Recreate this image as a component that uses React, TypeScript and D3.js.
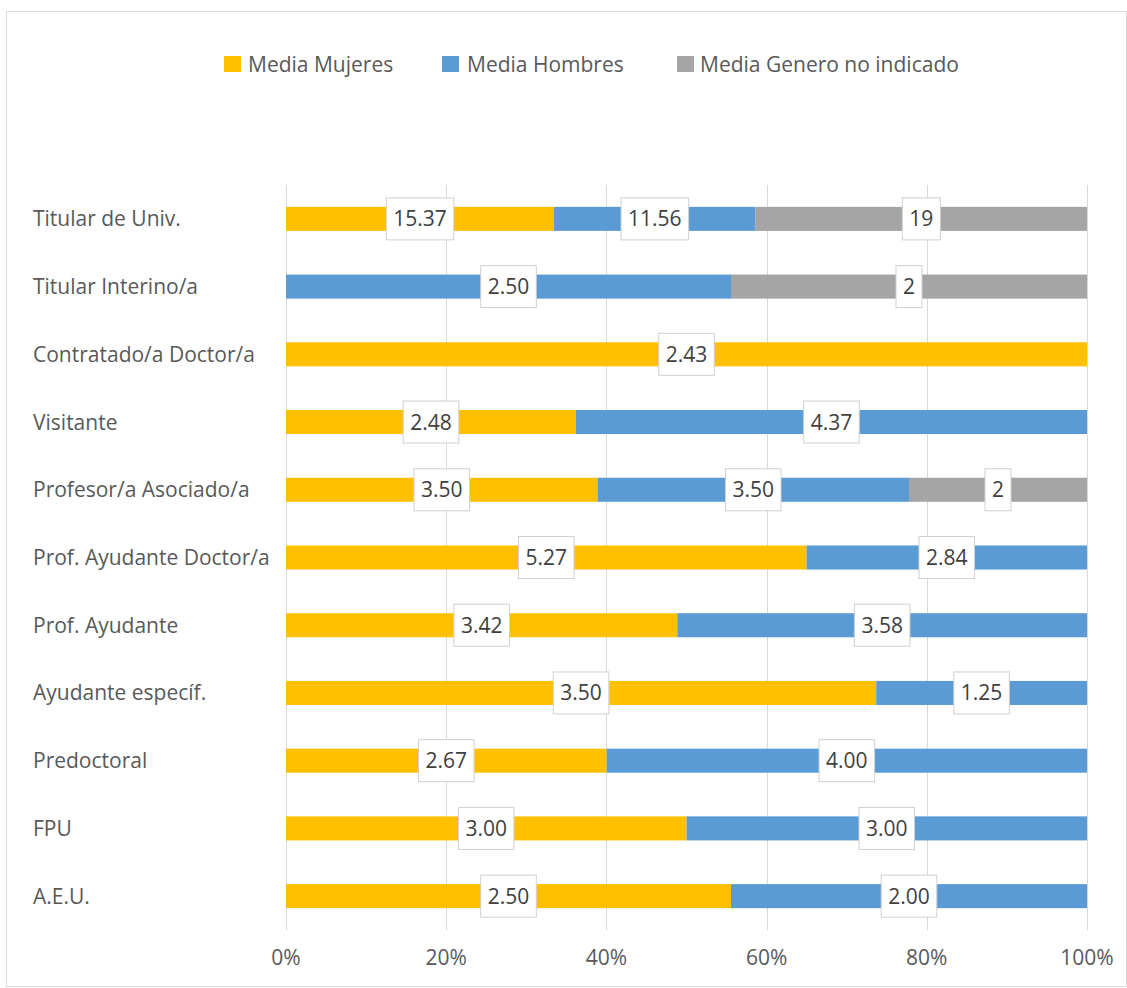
import React, { useEffect, useRef } from "react";
import * as d3 from "d3";

const categories = [
  "Titular de Univ.",
  "Titular Interino/a",
  "Contratado/a Doctor/a",
  "Visitante",
  "Profesor/a Asociado/a",
  "Prof. Ayudante Doctor/a",
  "Prof. Ayudante",
  "Ayudante específ.",
  "Predoctoral",
  "FPU",
  "A.E.U.",
];
const mujeres = [15.37, 0, 2.43, 2.48, 3.5, 5.27, 3.42, 3.5, 2.67, 3.0, 2.5];
const hombres = [11.56, 2.5, 0, 4.37, 3.5, 2.84, 3.58, 1.25, 4.0, 3.0, 2.0];
const noIndicado = [19, 2, 0, 0, 2, 0, 0, 0, 0, 0, 0];
const seriesNames = ["Media Mujeres", "Media Hombres", "Media Genero no indicado"];
const seriesColors = ["#FFC000", "#5B9BD5", "#A5A5A5"];
const seriesFormats = [".2f", ".2f", "d"];
const tickValues = [0, 0.2, 0.4, 0.6, 0.8, 1.0];

const FONT = "'Open Sans', sans-serif";
const FS = 21;

export default function App() {
  const ref = useRef<SVGSVGElement | null>(null);

  useEffect(() => {
    const svg = d3.select(ref.current);
    svg.selectAll("*").remove();
    const W = 1127, H = 988;

    svg.append("rect").attr("x", 0).attr("y", 0).attr("width", W).attr("height", H).attr("fill", "#fff");
    svg.append("rect").attr("x", 6.5).attr("y", 11.5).attr("width", 1120).attr("height", 975)
      .attr("fill", "#fff").attr("stroke", "#d9d9d9").attr("stroke-width", 1);

    const x = d3.scaleLinear().domain([0, 1]).range([286, 1087]);
    const y = d3.scaleBand<string>().domain(categories).range([185, 930]).paddingInner(0.645).paddingOuter(0.3225);

    // gridlines
    svg.append("g").selectAll("line").data(tickValues).join("line")
      .attr("x1", (d) => Math.round(x(d)) + 0.5).attr("x2", (d) => Math.round(x(d)) + 0.5)
      .attr("y1", 185).attr("y2", 930)
      .attr("stroke", "#d9d9d9").attr("stroke-width", 1);

    // tick labels
    const fmtPct = d3.format(".0%");
    svg.append("g").selectAll("text").data(tickValues).join("text")
      .attr("x", (d) => x(d)).attr("y", 965)
      .attr("text-anchor", "middle")
      .attr("font-family", FONT).attr("font-size", FS).attr("fill", "#595959")
      .text((d) => fmtPct(d));

    // category labels
    svg.append("g").selectAll("text").data(categories).join("text")
      .attr("x", 33).attr("y", (d) => (y(d) as number) + y.bandwidth() / 2 + 7.5)
      .attr("font-family", FONT).attr("font-size", FS).attr("fill", "#595959")
      .text((d) => d);

    const seriesVals = [mujeres, hombres, noIndicado];
    const rows = categories.map((c, i) => {
      const total = mujeres[i] + hombres[i] + noIndicado[i];
      let acc = 0;
      return seriesVals.map((vals, s) => {
        const v = vals[i];
        const x0 = acc / total;
        acc += v;
        const x1 = acc / total;
        return { cat: c, s, v, x0, x1 };
      });
    });
    const segs = rows.flat().filter((d) => d.v > 0);

    svg.append("g").selectAll("rect").data(segs).join("rect")
      .attr("x", (d) => x(d.x0)).attr("width", (d) => x(d.x1) - x(d.x0))
      .attr("y", (d) => y(d.cat) as number).attr("height", y.bandwidth())
      .attr("fill", (d) => seriesColors[d.s]);

    // data labels
    const lg = svg.append("g");
    segs.forEach((d) => {
      const cx = (x(d.x0) + x(d.x1)) / 2;
      const cy = (y(d.cat) as number) + y.bandwidth() / 2;
      const g = lg.append("g");
      const rect = g.append("rect");
      const t = g.append("text")
        .attr("x", cx).attr("y", cy + 7.5)
        .attr("text-anchor", "middle")
        .attr("font-family", FONT).attr("font-size", FS).attr("fill", "#404040")
        .text(d3.format(seriesFormats[d.s])(d.v));
      const tw = (t.node() as SVGTextElement).getComputedTextLength();
      const bw = tw + 14, bh = 42;
      rect.attr("x", cx - bw / 2).attr("y", cy - bh / 2).attr("width", bw).attr("height", bh)
        .attr("fill", "#fff").attr("stroke", "#d0d0d0").attr("stroke-width", 1);
    });

    // legend
    const legendItems = [
      { x: 224, tx: 248 },
      { x: 442, tx: 467 },
      { x: 677, tx: 700 },
    ];
    const leg = svg.append("g");
    seriesNames.forEach((n, i) => {
      leg.append("rect").attr("x", legendItems[i].x).attr("y", 56).attr("width", 17).attr("height", 16)
        .attr("fill", seriesColors[i]);
      leg.append("text").attr("x", legendItems[i].tx).attr("y", 71.5)
        .attr("font-family", FONT).attr("font-size", FS).attr("fill", "#595959")
        .text(n);
    });
  }, []);

  return <svg ref={ref} width={1127} height={988} style={{ display: "block", position: "absolute", left: 0, top: 0 }} />;
}
